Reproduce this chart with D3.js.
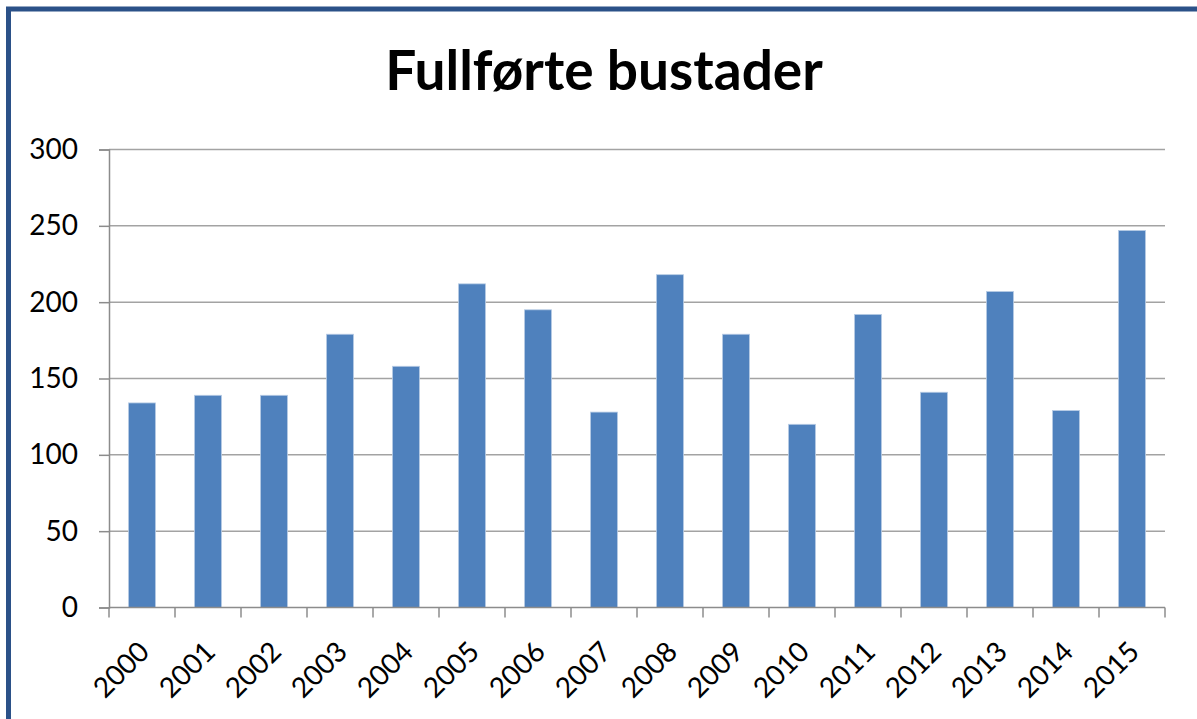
<html>
<head>
  <style>
    body { margin: 0; background: white; }
    svg { display: block; font-family: Lato, "Open Sans", sans-serif; }
  </style>
</head>
<body>
  <svg id="chart"></svg>
  <script src="https://cdn.jsdelivr.net/npm/d3@7"></script>
  <script>
    // data
    var years = ["2000", "2001", "2002", "2003", "2004", "2005", "2006", "2007",
      "2008", "2009", "2010", "2011", "2012", "2013", "2014", "2015"];
    var completed = [134, 139, 139, 179, 158, 212, 195, 128, 218, 179, 120, 192, 141, 207, 129, 247];
    var yTicks = [0, 50, 100, 150, 200, 250, 300];
    var title = "Fullførte bustader";

    var width = 1197, height = 719;
    var plot = { left: 109, right: 1165, top: 149.5, bottom: 607.5 };

    var svg = d3.select("#chart").attr("width", width).attr("height", height);

    // frame (picture is cropped on the right and at the bottom)
    svg.append("rect")
      .attr("x", 8.5).attr("y", 9)
      .attr("width", 1400).attr("height", 1000)
      .attr("fill", "none")
      .attr("stroke", "#2B5188")
      .attr("stroke-width", 5);

    svg.append("text")
      .attr("x", 604).attr("y", 90)
      .attr("text-anchor", "middle")
      .attr("font-size", 55)
      .attr("font-weight", "bold")
      .attr("fill", "#000")
      .text(title);

    var x = d3.scaleBand()
      .domain(years)
      .range([plot.left, plot.right])
      .paddingInner(0.59)
      .paddingOuter(0.295);

    var y = d3.scaleLinear()
      .domain([0, 300])
      .range([plot.bottom, plot.top]);

    // gridlines
    svg.append("g")
      .selectAll("line")
      .data(yTicks.filter(d => d > 0))
      .join("line")
      .attr("x1", plot.left).attr("x2", plot.right)
      .attr("y1", d => y(d)).attr("y2", d => y(d))
      .attr("stroke", "#A3A3A3")
      .attr("stroke-width", 1.5);

    // bars
    svg.append("g")
      .selectAll("rect")
      .data(years)
      .join("rect")
      .attr("x", d => x(d))
      .attr("width", x.bandwidth())
      .attr("y", (d, i) => y(completed[i]))
      .attr("height", (d, i) => y(0) - y(completed[i]))
      .attr("fill", "#4F81BD")
      .attr("stroke", "#B9CDE5")
      .attr("stroke-width", 0.8);

    // y axis
    var yAxis = d3.axisLeft(y).tickValues(yTicks).tickSize(10).tickPadding(21);
    var gy = svg.append("g")
      .attr("transform", "translate(" + plot.left + ",0)")
      .call(yAxis);
    gy.select(".domain").attr("stroke", "#8C8C8C").attr("stroke-width", 1.5);
    gy.selectAll(".tick line").attr("stroke", "#8C8C8C").attr("stroke-width", 1.5);
    gy.selectAll(".tick text")
      .attr("font-size", 28)
      .attr("font-family", "Lato, sans-serif")
      .attr("fill", "#000");

    // x axis: ticks on the band boundaries
    var bandEdge = d3.scalePoint().domain(d3.range(years.length + 1)).range([plot.left, plot.right]);
    var gx = svg.append("g")
      .attr("transform", "translate(0," + plot.bottom + ")");
    gx.append("line")
      .attr("x1", plot.left).attr("x2", plot.right)
      .attr("stroke", "#8C8C8C").attr("stroke-width", 1.5);
    gx.selectAll(".edge")
      .data(bandEdge.domain())
      .join("line")
      .attr("class", "edge")
      .attr("x1", d => bandEdge(d)).attr("x2", d => bandEdge(d))
      .attr("y1", 0).attr("y2", 10)
      .attr("stroke", "#8C8C8C").attr("stroke-width", 1.5);
    gx.selectAll("text")
      .data(years)
      .join("text")
      .attr("transform", d => "translate(" + (x(d) + x.bandwidth() / 2 + 9) + ",46) rotate(-45)")
      .attr("text-anchor", "end")
      .attr("font-size", 28)
      .attr("fill", "#000")
      .text(d => d);
  </script>
</body>
</html>
